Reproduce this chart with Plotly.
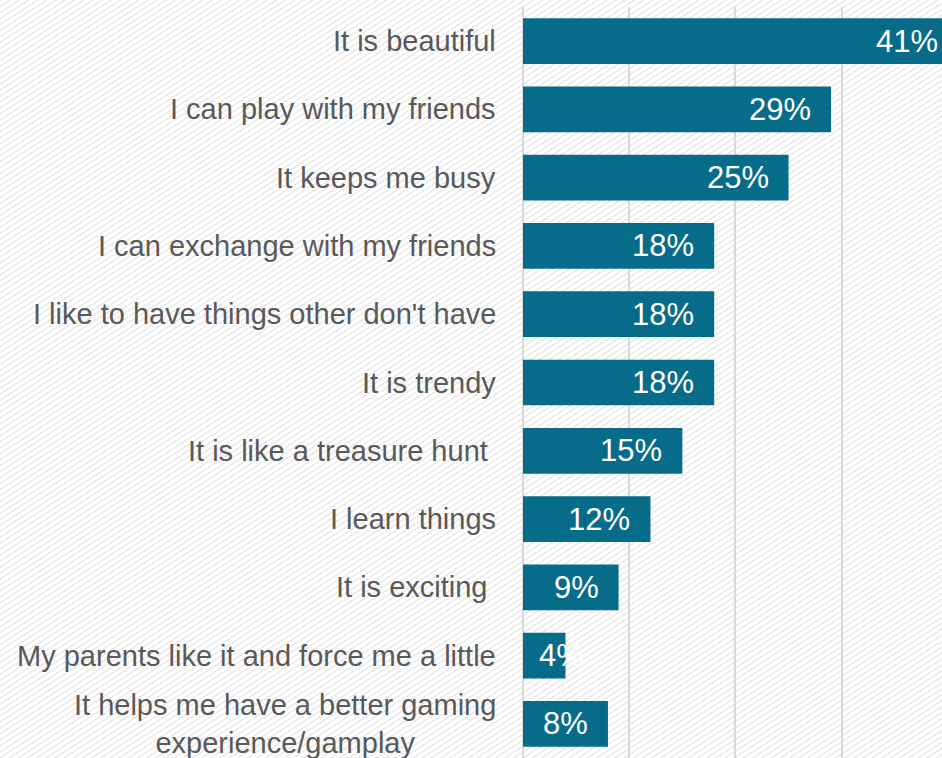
import base64
import plotly.graph_objects as go

# Reasons given, top to bottom, and the share of respondents (%)
reasons = [
    "It is beautiful",
    "I can play with my friends",
    "It keeps me busy",
    "I can exchange with my friends",
    "I like to have things other don't have",
    "It is trendy",
    "It is like a treasure hunt ",
    "I learn things",
    "It is exciting ",
    "My parents like it and force me a little",
    "It helps me have a better gaming<br>experience/gamplay",
]
shares = [41, 29, 25, 18, 18, 18, 15, 12, 9, 4, 8]
value_labels = [f"{v}%" for v in shares]
grid_ticks = [0, 10, 20, 30]

W, H = 942, 758
M_LEFT, M_TOP = 523, 7
X_MAX = 39.45
BAR_COLOR = "#076c89"
LABEL_COLOR = "#595959"
FONT = "Liberation Sans, Arial, sans-serif"

# Diagonal hatch used as the page background
hatch_svg = (
    f"<svg xmlns='http://www.w3.org/2000/svg' width='{W}' height='{H}'>"
    "<defs><pattern id='h' width='5' height='5' patternUnits='userSpaceOnUse' "
    "patternTransform='rotate(-33)'>"
    "<rect width='5' height='5' fill='#ffffff'/>"
    "<line x1='0' y1='0.6' x2='5' y2='0.6' stroke='#e1e1e1' stroke-width='1.1'/>"
    "</pattern></defs>"
    f"<rect width='{W}' height='{H}' fill='url(#h)'/></svg>"
)
hatch_uri = "data:image/svg+xml;base64," + base64.b64encode(hatch_svg.encode()).decode()

plot_w = W - M_LEFT
plot_h = H - M_TOP
px_per_unit = plot_w / X_MAX

fig = go.Figure(
    go.Bar(
        x=shares,
        y=reasons,
        orientation="h",
        marker=dict(color=BAR_COLOR, line=dict(width=0)),
        hoverinfo="skip",
    )
)

annotations = []
for reason, v, lab in zip(reasons, shares, value_labels):
    # category label to the left of the axis
    text = reason.rstrip(" ") + ("\u00a0" if reason.endswith(" ") else "")
    annotations.append(dict(
        x=0, xref="paper", y=reason, yref="y",
        text=text,
        xanchor="right", yanchor="middle", xshift=-25, align="center",
        showarrow=False, font=dict(family=FONT, size=29, color=LABEL_COLOR),
    ))
    # value label inside the bar end; short bars get it near the start
    fits = v * px_per_unit > 80
    annotations.append(dict(
        x=(v if fits else 0) / X_MAX, xref="paper", y=reason, yref="y",
        text=lab, xanchor="right" if fits else "left",
        xshift=-18 if fits else 14, yanchor="middle",
        showarrow=False, font=dict(family=FONT, size=31, color="#ffffff"),
    ))

fig.update_layout(
    width=W, height=H,
    margin=dict(l=M_LEFT, r=0, t=M_TOP, b=0, pad=0),
    paper_bgcolor="#ffffff",
    plot_bgcolor="rgba(0,0,0,0)",
    bargap=0.33,
    showlegend=False,
    annotations=annotations,
    images=[dict(
        source=hatch_uri, xref="paper", yref="paper",
        x=-M_LEFT / plot_w, y=1 + M_TOP / plot_h,
        sizex=W / plot_w, sizey=H / plot_h,
        xanchor="left", yanchor="top", sizing="stretch", layer="below",
    )],
    xaxis=dict(
        range=[0, X_MAX], tickvals=grid_ticks, showticklabels=False,
        showgrid=True, gridcolor="#d9d9d9", gridwidth=2,
        zeroline=True, zerolinecolor="#d9d9d9", zerolinewidth=2,
        showline=False, fixedrange=True,
    ),
    yaxis=dict(
        type="category", categoryorder="array", categoryarray=reasons,
        range=[len(reasons) - 0.5, -0.5], showticklabels=False,
        showgrid=False, zeroline=False, showline=False, fixedrange=True,
    ),
)

fig.write_html("out.html", config={"displayModeBar": False})
